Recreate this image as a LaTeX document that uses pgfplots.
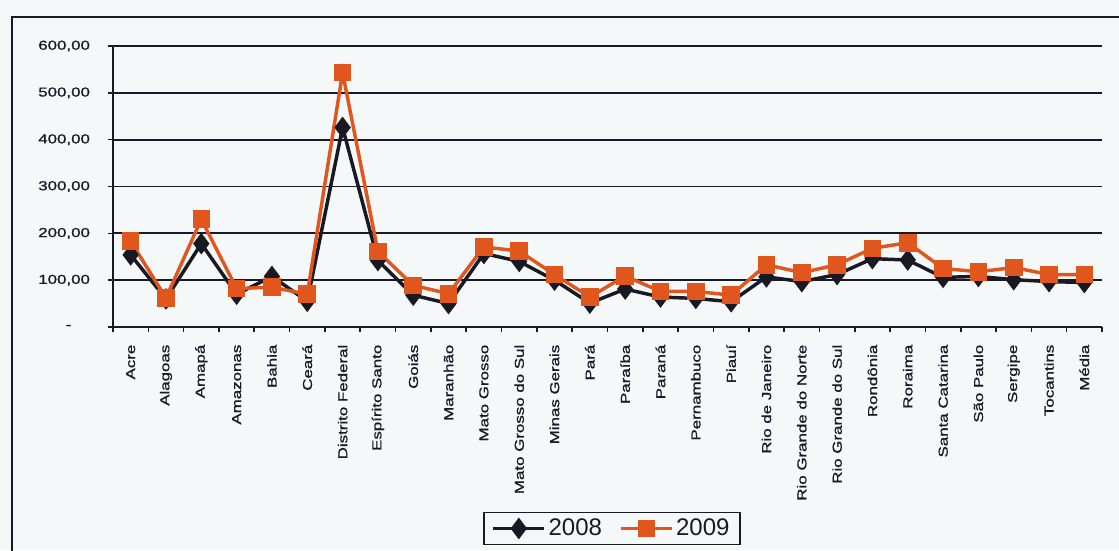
\documentclass[border=0pt]{standalone}
\usepackage{pgfplots}
\pgfplotsset{compat=1.18}
\usepackage{pgfplotstable}
\usepackage{fontspec}
\setmainfont{Liberation Sans}
\newfontfamily\tickfont[FakeStretch=1.3,FakeBold=1]{Liberation Sans}

\definecolor{orng}{RGB}{224,86,28}
\definecolor{ink}{RGB}{25,25,35}
\definecolor{paper}{RGB}{245,248,249}

% valores por estado (2008, 2009)
\pgfplotstableread{
x y2008 y2009
0  154 183
1  60  62
2  178 230
3  70  82
4  108 85
5  55  70
6  426 543
7  142 161
8  68  89
9  50  71
10 157 171
11 140 162
12 100 112
13 51  64
14 81  109
15 64  76
16 61  76
17 54  68
18 107 133
19 97  116
20 112 133
21 146 168
22 143 180
23 106 125
24 108 118
25 101 127
26 97  112
27 95  112
}\datatable

\begin{document}
\begin{tikzpicture}
\fill[paper] (0,0) rectangle (839.25pt,412.5pt);
\useasboundingbox (0,0) rectangle (839.25pt,412.5pt);
\draw[ink, line width=1.5pt] (9pt,-5pt) -- (9pt,399.75pt) -- (845pt,399.75pt);
\begin{axis}[
  at={(84.75pt,167.25pt)}, anchor=south west,
  scale only axis, width=741.75pt, height=210.75pt,
  xmin=-0.5, xmax=27.5, ymin=0, ymax=600,
  clip=false,
  axis x line*=bottom, axis y line*=left,
  axis line style={ink, line width=1.4pt},
  tick align=outside,
  tick style={ink, line width=1.2pt},
  major tick length=3.75pt, minor tick length=3.75pt,
  xtick={0,...,27},
  major x tick style={draw=none},
  minor xtick={-0.5,0.5,...,27.5},
  xticklabels={Acre,Alagoas,Amapá,Amazonas,Bahia,Ceará,Distrito Federal,Espírito Santo,Goiás,Maranhão,Mato Grosso,Mato Grosso do Sul,Minas Gerais,Pará,Paraíba,Paraná,Pernambuco,Piauí,Rio de Janeiro,Rio Grande do Norte,Rio Grande do Sul,Rondônia,Roraima,Santa Catarina,São Paulo,Sergipe,Tocantins,Média},
  ytick={0,100,...,600},
  yticklabels={{-\hspace*{14pt}},{100,00},{200,00},{300,00},{400,00},{500,00},{600,00}},
  ymajorgrids,
  grid style={ink, line width=1.4pt},
  tick label style={font=\tickfont\fontsize{9.75}{10}\selectfont, text=ink},
  xticklabel style={rotate=90, anchor=east},
  xticklabel shift=6pt,
  yticklabel shift=10pt,
  legend style={at={(0.5045,-0.717)}, anchor=center, draw=ink, very thick,
    fill=paper, font=\fontsize{18}{20}\selectfont, text=ink,
    inner xsep=6pt, inner ysep=3pt,
    /tikz/every even column/.append style={column sep=11pt}},
  legend columns=2,
  legend image code/.code={\draw[mark repeat=2,mark phase=2] plot coordinates {(0pt,0pt) (19pt,0pt) (38pt,0pt)};},
]
\addplot[ink, line width=2.6pt, mark=diamond*, mark size=6pt, mark options={solid}] table[x=x,y=y2008]{\datatable};
\addplot[orng, line width=2.6pt, mark=square*, mark size=5.3pt, mark options={solid}] table[x=x,y=y2009]{\datatable};
\legend{2008,2009}
\end{axis}
\end{tikzpicture}
\end{document}
